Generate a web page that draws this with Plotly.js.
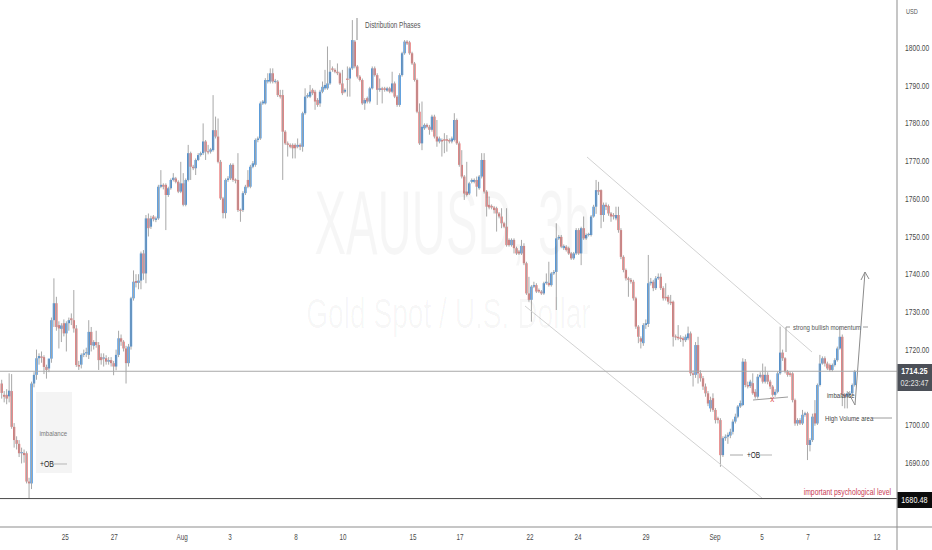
<!DOCTYPE html>
<html><head><meta charset="utf-8">
<script src="https://cdn.plot.ly/plotly-3.0.1.min.js"></script>
<style>html,body{margin:0;padding:0;background:#fff}#chart{width:932px;height:550px}</style>
</head><body><div id="chart"></div>
<script>
// ---- OHLC data (XAUUSD, 3h bars) ----
const O = [
1711,1708,1708,1707.6,1709,1699.5,1696,1695,1692.5,1692.6,1692.5,1685,1684.5,1711,1713.3,1717.7,1718.2,1718,1715.4,1715,
1717.6,1727.8,1732.3,1726.5,1725.5,1727,1724.3,1727,1728.3,1727.8,1725.6,1715.9,1716,1718.6,1719,1718.6,1724.7,1721,1722,1721.2,
1718,1717.6,1717.7,1716.8,1717.2,1716.4,1715.5,1718.6,1723,1722.1,1720.3,1716.4,1720.8,1733.6,1738.2,1737.7,1738.3,
1745.5,1740.2,1754.8,1752.6,1755.3,1754.4,1754.8,1763.2,1763.7,1763.7,1761,1762.8,1765,1765.4,1764.5,1761.9,1764.1,1758.4,1765,1772.1,
1768.5,1768.1,1770.3,1771.6,1772.1,1775.2,1772.5,1772.5,1772.9,1778.2,1776.5,1769.8,1760.1,1756.2,1765,1765.4,1769,1765,1765,1757,
1757,1761.5,1765,1763.2,1768.5,1769,1775.6,1776,1785.3,1785.3,1791.1,1791.1,1793.3,1791,1791.1,1787.5,1787.5,1777.8,1774.7,1774.3,1774.3,
1774.3,1773.8,1774.3,1773.8,1782.7,1787.1,1787.1,1788.9,1788.4,1786.2,1785.3,1788.4,1789.3,1789.3,1790.6,1794.6,1794.2,1793.7,1793.3,1790.6,
1788.4,1791.9,1791.9,1794.6,1801.7,1795.1,1792.4,1791.5,1785.3,1786.7,1785.8,1789.3,1794.6,1792.8,1788.9,1789.3,1789.3,1788.7,1789.3,1788.4,
1790.6,1787.1,1784.9,1792.8,1798.6,1801.7,1801.5,1798.6,1795.9,1791.5,1783.1,1774.7,1778.7,1779.6,1779.1,1778.3,1781.8,1776.5,1775.2,1775.6,
1775.8,1775.8,1775.6,1775.2,1775.6,1780.9,1774.7,1769,1765.9,1761.9,1761.4,1764.5,1764.5,1765,1762.8,1765.9,1770.3,1761.9,1758.4,1758.1,
1757.7,1757.5,1756.1,1755.3,1753.5,1752.6,1749.1,1747.7,1749.1,1746.9,1746,1745.5,1747.5,1742.9,1734.9,1733.2,1736.7,1737.1,1735.8,1735.4,
1734.9,1737.6,1737.7,1737.1,1740.2,1740.6,1749.5,1749.9,1746.9,1747.3,1746.9,1745.5,1744.2,1745.5,1751.7,1745.5,1752.2,1749.5,1750.4,1750.4,1755.3,
1757.9,1762.3,1762.3,1755.7,1758.4,1758.1,1756.1,1755.7,1754.8,1755.7,1751.7,1744.6,1741.1,1738.9,1738.5,1738,1733.6,1726.1,1723,1721.7,
1726.5,1726.8,1737.6,1738,1736.3,1738.9,1739.3,1736.3,1734,1734,1732.7,1732.7,1723.4,1723.4,1723.2,1723,1722.5,1723,1724.3,1713.7,
1713.3,1721.2,1713.7,1712.4,1710.2,1708.4,1704.4,1707.1,1704,1701.8,1701.3,1692,1696.5,1696.9,1697.2,1698.2,1700.9,1702.2,
1704.9,1705.3,1716.8,1710.6,1710.3,1711.1,1708.8,1707.5,1712.8,1713.3,1711.5,1713.3,1711.5,1710.2,1708,1708.8,1713.7,1719.2,1717.7,1714.2,
1713.7,1713.7,1706.6,1700.4,1701.3,1700.4,1702.7,1703.1,1694.7,1696,1703.1,1700.4,1710.6,1716.3,1717.7,1716.3,1715.9,1714.6,1715.9,1717.2,
1720.3,1723.4,1708,1707.5,1708,1708.4,1710.6
];
const H = [
1712,1709,1709.5,1713.7,1713.5,1700.5,1697,1696,1694,1693.5,1693,1686,1711.5,1714,1720,1719,1719.5,1718.5,1716,1717.5,
1728.5,1738.9,1734,1727.5,1727,1728,1727.5,1728.5,1729.6,1735.8,1726.5,1717,1719,1720,1720.5,1727.8,1726,1722.5,1725,1722,
1719,1719,1718.5,1718,1718,1717,1720,1725,1724,1722.5,1721,1721.5,1734,1741,1740,1740,1746,
1746.4,1755.7,1756.1,1755.5,1755.7,1755.3,1763.7,1767.6,1764.1,1764.1,1763.2,1765.4,1766.8,1765.8,1764.9,1769.8,1766.8,1765.4,1774.3,1772.5,
1769,1770.7,1772.1,1772.5,1780,1775.6,1774.3,1773.5,1787.5,1781.8,1781.3,1770.3,1760.5,1765.4,1766,1769.4,1769.4,1765.4,1772.1,1757.4,
1762,1763.7,1767.6,1769,1770,1776,1776.5,1785.8,1786.2,1792,1793.3,1794.6,1794.6,1791.8,1791.5,1788.9,1788.9,1778.2,1775.2,1774.7,1774.7,
1774.7,1776,1774.7,1783.1,1789.3,1788,1790.2,1789.3,1788.9,1786.7,1788.9,1791.1,1794.2,1800.4,1796.8,1795.1,1794.6,1795.9,1793.7,1794.2,
1789.3,1795.1,1795,1807.4,1802.1,1795.5,1792.8,1791.9,1786.7,1787.1,1789.7,1795.1,1795.1,1793.3,1791.9,1789.7,1789.7,1789.7,1789.7,1793.7,
1791.1,1787.5,1793.3,1799,1802.1,1802.1,1801.9,1799,1796.3,1791.9,1785.3,1785.8,1780,1780,1779.6,1782.3,1782.3,1780.9,1776.5,1776,
1777.4,1776.9,1776,1776.5,1782.7,1781.3,1775.2,1772.9,1766.3,1769.8,1764.5,1765.4,1765.4,1765.9,1766.3,1772.1,1772.1,1762.3,1760.6,1758.5,
1758.1,1757.9,1756.5,1757.5,1753.9,1757.5,1749.5,1749.5,1749.5,1747.3,1746.4,1749.1,1748.2,1743.3,1739.3,1737.1,1738,1737.6,1736.2,1735.8,
1738,1740.2,1743.3,1740.6,1741.1,1753.5,1750.4,1750.4,1747.9,1747.7,1747.3,1745.9,1745.9,1752.2,1752.2,1752.6,1755.3,1750.8,1751,1755.7,1758.4,
1765,1764.5,1762.5,1759,1759,1758.5,1756.5,1756.2,1757.9,1757.9,1752.2,1745,1741.5,1739.3,1739,1738.5,1734,1726.5,1723.5,1727,
1728,1745.1,1739,1738.5,1739.5,1740.2,1740.2,1736.8,1737.6,1734.5,1734.5,1733,1724,1726.5,1723.8,1723.5,1724,1726.1,1724.8,1714.5,
1722,1723.4,1714.5,1713,1711,1709,1707.5,1708.4,1704.5,1702.2,1701.8,1697,1697.5,1698,1699,1701.5,1703,1705.3,
1706.5,1717.7,1717.5,1711.5,1712,1713.7,1709.5,1713.5,1714,1716.3,1715.5,1714,1712,1710.6,1709.5,1714.2,1726.1,1720,1718,1714.6,
1714.2,1714,1707,1701.8,1701.8,1704,1703.5,1703.5,1696.5,1703,1706.6,1711,1718.6,1718.2,1718.2,1716.8,1716.3,1716.3,1717.7,1720.8,
1726.1,1724,1708.5,1709,1709,1711,1714.6
];
const L = [
1707,1706,1705.5,1706,1699,1694,1693.5,1691.5,1689.8,1690,1684.5,1680.5,1683,1710,1712,1716,1716.5,1713.5,1712.3,1714,
1716.5,1726,1725,1720.3,1722,1723.5,1719.5,1725,1726.5,1724.5,1715.4,1714.6,1715,1718,1718,1717.5,1719.5,1720,1720.5,1714.6,
1716,1715.5,1716,1716,1715.5,1713.2,1714.5,1718,1721,1719.5,1711,1715.5,1720,1733,1736.5,1736,1736,
1738.5,1737.6,1750,1752,1754,1753.8,1754.4,1762.8,1762.5,1751.7,1760.5,1762.4,1764.6,1764.1,1761.5,1761.5,1758,1758,1764.6,1765,
1767.6,1766.3,1770,1771.2,1771.6,1770.3,1771.8,1772,1772.5,1776,1769.4,1759.7,1754.8,1754.8,1764.5,1765,1764.5,1764.1,1756.5,1753.9,
1756.5,1761,1762.8,1762.8,1768.1,1768.5,1775,1775.6,1784.9,1785,1790.6,1790.6,1790.6,1790.6,1787,1786.6,1765,1774.3,1771.2,1773.4,1770.7,
1770.7,1773.4,1772.9,1772.5,1782.3,1786.7,1786.7,1787.5,1783.6,1784.4,1784.4,1788,1788.9,1788.9,1790.2,1793.7,1793.3,1792.8,1790.2,1787.5,
1788,1787.1,1787.1,1794.2,1794.6,1791.9,1791.1,1784.9,1783.6,1785.3,1785.3,1789,1792.4,1784.9,1788.4,1785.3,1788.4,1788.4,1788,1788,
1786.7,1784.4,1784.4,1792.4,1798.2,1800.8,1798.2,1795.5,1791.1,1782.7,1774.3,1772.9,1778.3,1778.7,1777,1777.8,1776,1773.8,1774.7,1771.2,
1772.1,1772.5,1774.7,1774.7,1775.2,1774.3,1768.5,1765.4,1759.7,1760.6,1761,1764.1,1764.1,1760.6,1762.4,1765.4,1761.4,1755.3,1757.2,1757.2,
1756.1,1751.3,1754.8,1752.2,1752.2,1747.3,1747.3,1747.3,1745.5,1745.1,1745.1,1745.1,1742.4,1734.5,1732.7,1727.4,1736.3,1735,1735,1734.5,
1734.5,1737.2,1736.7,1736.7,1739.8,1730.5,1749.1,1746.9,1746.4,1746,1745.1,1743.8,1743.8,1745.1,1745.1,1742.4,1749.1,1749.1,1750,1750,1755,
1756,1761,1752.2,1753.9,1757,1755.5,1753.9,1754.5,1754.3,1751,1744,1740.5,1738.3,1734,1737.5,1733,1725.5,1721.7,1720.3,1721,
1725.5,1726,1737,1735.5,1735.8,1738.5,1735.8,1733,1733,1732,1731.8,1720.8,1722.5,1722.5,1722,1720.8,1722,1722.5,1713,1710.2,
1712.5,1711,1711.5,1709.3,1707.5,1705,1703.5,1703.5,1700.4,1700.4,1688.9,1691.5,1695.8,1695,1696.5,1697.5,1700.4,1701.8,
1704.5,1705,1710,1709.7,1709.8,1708,1707,1707,1712.4,1711,1711,1710.8,1709.5,1707.5,1707.5,1708.4,1713.3,1717,1713.7,1712.8,
1712.8,1706,1699.8,1699.8,1700,1700,1702.2,1690.7,1693,1695.5,1699.8,1700,1710.2,1716,1715.5,1714.6,1714.2,1714.2,1715.5,1716.8,
1720,1705,1704.4,1704.4,1707.5,1708,1710.2
];
const C = [
1708.5,1707.5,1707,1709.1,1699.5,1696,1695,1692.5,1692.8,1692,1685,1684.5,1711,1713.3,1717.7,1718.3,1717.8,1715.4,1714.6,1717.6,
1727.8,1732.3,1726,1725.6,1726.4,1724.3,1727,1727.8,1727.8,1725.6,1715.9,1715.5,1718.6,1719,1719.3,1724.7,1721.2,1722,1721.2,1717.2,
1717.2,1717.8,1716.8,1717.2,1716.4,1715.5,1718.6,1723,1722.1,1720.3,1716.4,1720.8,1733.6,1738,1737.7,1738.3,1745.5,
1740.2,1754.8,1752.2,1754.8,1754.6,1754.8,1763.2,1763.7,1763.2,1761,1762.8,1765,1765.6,1764.5,1761.9,1764.1,1758.4,1765,1772.1,1768.5,
1768.1,1770.3,1771.6,1772.1,1775.2,1772.5,1772.3,1773.1,1778.2,1776.5,1769.8,1760.1,1756.2,1765,1765.4,1769,1765,1764.8,1757,1756.8,
1761.5,1763.2,1763.2,1768.5,1769.4,1775.6,1776,1785.3,1785.8,1791.5,1791.5,1793.3,1791.1,1791.3,1787.5,1787.1,1777.8,1774.7,1774.3,1773.8,1773.4,
1773.4,1774.3,1773.8,1782.7,1787.1,1787.5,1788.4,1788,1785.8,1784.9,1788.4,1789.7,1790.2,1790.6,1793.7,1794.2,1793.7,1793.3,1790.6,1788,
1788.9,1791.5,1794.6,1802.1,1795.1,1792.4,1791.5,1785.3,1786.2,1785.8,1789.3,1794.6,1792.8,1788.9,1789.3,1788.9,1788.9,1789.3,1788.4,1790.6,
1787.1,1784.9,1792.8,1798.6,1801.7,1801.2,1798.6,1795.9,1791.5,1783.1,1774.7,1779.1,1779.6,1779.1,1778.3,1781.8,1776.5,1775.2,1776,1775.2,
1775.4,1775.4,1775.2,1776,1780.9,1774.7,1769,1765.9,1761.4,1761,1764.1,1765,1765,1763.2,1765.9,1770.3,1761.9,1757.9,1757.7,1757.7,
1757,1756.1,1755.3,1753.5,1752.6,1747.7,1747.7,1749.1,1746.9,1745.5,1745.5,1747.5,1742.9,1734.9,1733.2,1736.7,1737.1,1735.4,1735.4,1734.9,
1737.6,1738,1737.1,1740.2,1740.6,1749.5,1749.9,1747.3,1747.5,1746.4,1745.5,1744.2,1745.5,1751.7,1745.5,1752.2,1749.5,1750.4,1750.6,1755.3,1757.9,
1762.3,1761.9,1755.7,1758.4,1757.9,1756.1,1755.3,1755.3,1755.7,1751.7,1744.6,1741.1,1738.9,1738.5,1738,1733.6,1726.1,1723.4,1722.1,1726.5,
1727,1737.6,1738,1736.3,1738.9,1739.3,1736.3,1733.6,1733.6,1732.7,1732.3,1723.4,1723.2,1723,1722.8,1722.5,1723.4,1724.3,1713.7,1713.3,
1721.2,1713.7,1712.4,1710.2,1708.4,1705.7,1706.6,1704,1701.3,1701.3,1692,1696.5,1696.9,1697.4,1698.2,1700.9,1702.2,1704.9,
1705.8,1716.8,1710.6,1710.2,1711.5,1708.4,1707.5,1712.8,1713.3,1711.5,1713.3,1711.5,1710.2,1708,1708.8,1713.7,1719.2,1717.7,1714.2,1713.3,
1713.3,1706.6,1700.4,1701.3,1700.4,1702.7,1703.1,1694.7,1696,1702.2,1700.4,1710.6,1716.3,1717.7,1716.3,1715,1714.6,1715.9,1717.2,1720.3,
1723.4,1708,1707.5,1708.4,1708.4,1710.6,1714.25
];
// x-axis date labels and the bar index where each one sits
const tickLabels = ['25','27','Aug','3','8','10','15','17','22','24','29','Sep','5','7','12'];
const tickBars   = [25.5,45.2,72.5,91.8,118.3,137.2,165.4,184.3,212.4,231.7,259.1,286.8,305.7,324.2,351.9];
const priceTicks = [1690,1700,1710,1720,1730,1740,1750,1760,1770,1780,1790,1800];
const lastPrice = 1714.25;
const lastTime = '02:23:47';
const psychLevel = 1680.48;

// ---- geometry helpers (pixel of the plot area -> paper) ----
const PW = 897, PH = 527;
const XR = [-0.68, 360.0], YR = [1672.94, 1812.73];
const px = x => x / PW;
const py = y => 1 - y / PH;
const F = "'Liberation Sans',Arial,sans-serif";
const UP = 'rgb(37,130,221)', DN = 'rgb(232,104,104)', WICK = '#a8a8a8';

const idx = O.map((_, i) => i);
const wx = [], wy = [];
idx.forEach(i => { wx.push(i, i, null); wy.push(L[i], H[i], null); });

const traces = [
  { type:'scatter', mode:'lines', x:wx, y:wy, line:{color:WICK, width:1}, hoverinfo:'skip', connectgaps:false },
  { type:'bar', x:idx, base:idx.map(i => Math.min(O[i], C[i])),
    y:idx.map(i => Math.max(Math.abs(C[i] - O[i]), 0.3)),
    width:0.92, marker:{color:idx.map(i => C[i] >= O[i] ? UP : DN), line:{width:0}}, hoverinfo:'skip' }
];

const ln = (x0, y0, x1, y1, color, extra) => Object.assign({type:'line', xref:'paper', yref:'paper',
  x0:px(x0), y0:py(y0), x1:px(x1), y1:py(y1), line:{color:color, width:1}}, extra || {});

const shapes = [
  {type:'rect', xref:'paper', yref:'paper', x0:px(36), x1:px(72), y0:py(392), y1:py(473),
   fillcolor:'rgba(0,0,0,0.045)', line:{width:0}, layer:'below'},
  ln(52,464,67,464,'#b5b5b5'),
  ln(730,455,743,455,'#a8a8a8'), ln(759,455,772,455,'#b5b5b5'),
  ln(357,18,357,40,'#8c8c8c'),
  ln(587,157,812,352,'#d2d2d2'),
  ln(525,306,762,498,'#d2d2d2'),
  ln(753,400,788,397,'#9c9c9c'),
  ln(786,327,786,352,'#9c9c9c'), ln(786,327,790,327,'#9c9c9c'), ln(863,327,868,327,'#9c9c9c'),
  ln(848,392,855,405,'#8c8c8c'), ln(855,405,865,272,'#8c8c8c'),
  ln(865,272,861,280,'#8c8c8c'), ln(865,272,869,279,'#8c8c8c'),
  ln(873,418,892,418,'#9c9c9c'),
  {type:'line', xref:'paper', yref:'y', x0:0, x1:1, y0:lastPrice, y1:lastPrice, line:{color:'#a8a8a8', width:1}},
  {type:'line', xref:'paper', yref:'y', x0:0, x1:1, y0:psychLevel, y1:psychLevel, line:{color:'#4a4a4a', width:1}},
  ln(897,0,897,550,'#8d8d8d'),
  ln(0,527,932,527,'#8d8d8d'),
  {type:'rect', xref:'paper', yref:'paper', x0:px(897.5), x1:px(932), y0:py(364), y1:py(391),
   fillcolor:'#4b4f57', line:{width:0}},
  {type:'rect', xref:'paper', yref:'paper', x0:px(897.5), x1:px(932), y0:py(492), y1:py(508),
   fillcolor:'#0c0c0c', line:{width:0}}
];

// text items: [text, x, y, xanchor, size, color, horizontal squeeze]
const notes = [
  ['XAUUSD, 3h', 452, 222, 'center', 91, 'rgba(0,0,0,0.035)', 0.52],
  ['Gold Spot / U.S. Dollar', 448, 313, 'center', 42, 'rgba(0,0,0,0.035)', 0.67],
  ['USD', 904, 11, 'left', 7.5, '#555', 0.75],
  ['Distribution Phases', 363, 25, 'left', 8.5, '#555', 0.76],
  ['imbalance', 53, 433, 'center', 8, '#7a7a7a', 0.76],
  ['+OB', 38, 464, 'left', 9, '#222', 0.76],
  ['+OB', 745, 455, 'left', 8.5, '#222', 0.76],
  ['x', 772, 399, 'center', 9, '#e05555', 0.9],
  ['strong bullish momentum', 791, 327, 'left', 8, '#555', 0.76],
  ['imbalance', 825, 395, 'left', 8, '#444', 0.76],
  ['High Volume area', 823, 418, 'left', 8, '#444', 0.76],
  ['important psychological level', 893, 492, 'right', 9, '#c93a52', 0.76],
  ['<b>' + lastPrice.toFixed(2) + '</b>', 914.5, 371, 'center', 8.5, '#ffffff', 0.85],
  [lastTime, 914.5, 383, 'center', 8.5, '#e0e0e0', 0.85],
  [psychLevel.toFixed(2), 914.5, 500, 'center', 8.5, '#ffffff', 0.85]
];
const annotations = notes.map(n => ({text:n[0], x:px(n[1]), y:py(n[2]), xref:'paper', yref:'paper',
  xanchor:n[3], yanchor:'middle', showarrow:false, font:{family:F, size:n[4], color:n[5]}}));

const layout = {
  width:932, height:550, margin:{l:0, r:35, t:0, b:23},
  paper_bgcolor:'#ffffff', plot_bgcolor:'#ffffff', showlegend:false,
  xaxis:{range:XR, showgrid:false, zeroline:false, showline:false, ticks:'',
    tickmode:'array', tickvals:tickBars, ticktext:tickLabels, ticklabelstandoff:4,
    tickfont:{family:F, size:8.3, color:'#4a4a4a'}, fixedrange:true},
  yaxis:{range:YR, side:'right', showgrid:false, zeroline:false, showline:false, ticks:'',
    tickmode:'array', tickvals:priceTicks, ticktext:priceTicks.map(v => v.toFixed(2)), ticklabelstandoff:7,
    tickfont:{family:F, size:8.6, color:'#4a4a4a'}, fixedrange:true},
  shapes:shapes, annotations:annotations
};

// squeeze text horizontally around its anchor (the reference uses a condensed face)
function squeeze(t, s, anchor) {
  const b = t.getBBox();
  if (!b.width) return;
  const ax = anchor === 'left' ? b.x : anchor === 'right' ? b.x + b.width : b.x + b.width / 2;
  const prev = t.getAttribute('transform') || '';
  t.setAttribute('transform', prev + ' translate(' + ax + ',0) scale(' + s + ',1) translate(' + (-ax) + ',0)');
}
Plotly.newPlot('chart', traces, layout, {staticPlot:true, displayModeBar:false}).then(gd => {
  gd.querySelectorAll('.annotation').forEach(g => {
    const i = +g.getAttribute('data-index');
    const t = g.querySelector('text');
    if (t && notes[i]) squeeze(t, notes[i][6], notes[i][3]);
  });
  gd.querySelectorAll('.xtick text').forEach(t => squeeze(t, 0.76, 'center'));
  gd.querySelectorAll('.ytick text').forEach(t => squeeze(t, 0.78, 'left'));
});
</script></body></html>
